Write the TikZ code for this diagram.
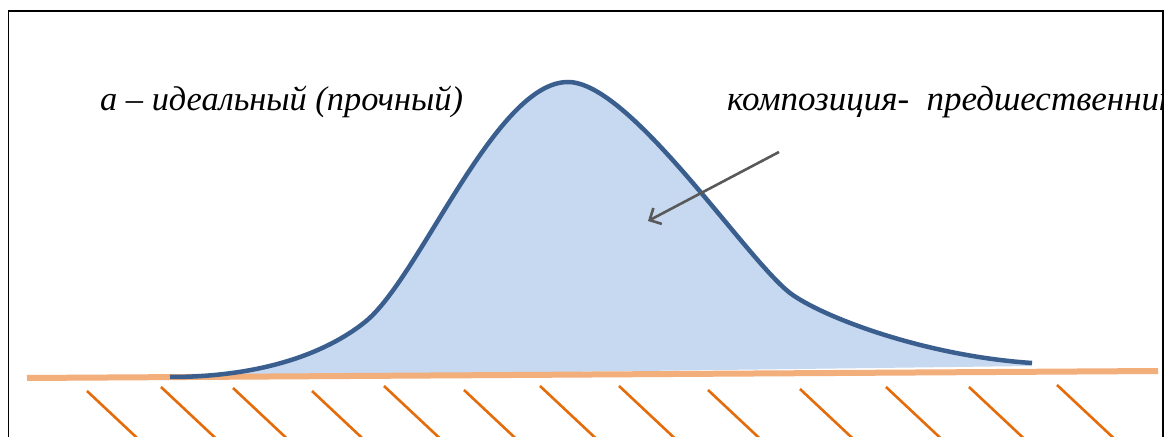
\documentclass[tikz,border=0pt]{standalone}
\usepackage{fontspec}
\setmainfont{Liberation Serif}
\usetikzlibrary{arrows.meta}
\definecolor{curveblue}{HTML}{3A5F8F}
\definecolor{fillblue}{HTML}{C6D9F1}
\definecolor{groundline}{HTML}{F2AF7B}
\definecolor{hatchorange}{HTML}{E46C0A}
\definecolor{arrowgray}{HTML}{595959}
\tikzset{
  lbl/.style={anchor=base west, inner sep=0pt, font=\fontsize{34.5}{38}\selectfont\itshape},
  hatch/.style={draw=hatchorange, line width=2.6bp},
  pointer/.style={draw=arrowgray, line width=2.6bp, -{Straight Barb[length=9bp, width=18bp, line width=2.6bp]}},
}
\def\bellpath{(170,377) .. controls (260,377) and (325,354) .. (365,322)
  .. controls (420,278) and (495,82) .. (568,82)
  .. controls (630,82) and (745,258) .. (790,293)
  .. controls (822,317) and (925,356) .. (1032,363)}
\begin{document}
\begin{tikzpicture}[x=1bp, y=-1bp]
\useasboundingbox (0,0) rectangle (1167,437);
\fill[white] (0,0) rectangle (1167,437);
\begin{scope}
\clip (9,12) rectangle (1162,445);
% curve fill
\fill[fillblue] \bellpath -- (1032,366) -- cycle;
% ground line
\coordinate (g1) at (27,378);
\coordinate (g2) at (1158,371);
\draw[groundline, line width=6bp] (g1) -- (g2);
% curve stroke
\draw[curveblue, line width=4.5bp] \bellpath;
% hatch
\foreach \x/\y in {87/391,161/387,233/388,312/391,384/386,464/390,540/386,619/386,708/390,800/389,886/387,969/387,1057/385}{
  \draw[hatch] (\x,\y) -- ++(64,60);
}
% labels
\node[lbl] (ideal) at (100,111) {а – идеальный (прочный)};
\node[lbl, font=\fontsize{35.1}{39}\selectfont\itshape] (pred) at (727,111) {композиция-\ \ предшественник};
% pointer
\coordinate (ps) at (779,152);
\coordinate (pe) at (648,221);
\draw[pointer] (ps) -- (pe);
\end{scope}
\draw[black, line width=1.5bp] (8.5,500) -- (8.5,11) -- (1163,11) -- (1163,500);
\end{tikzpicture}
\end{document}
